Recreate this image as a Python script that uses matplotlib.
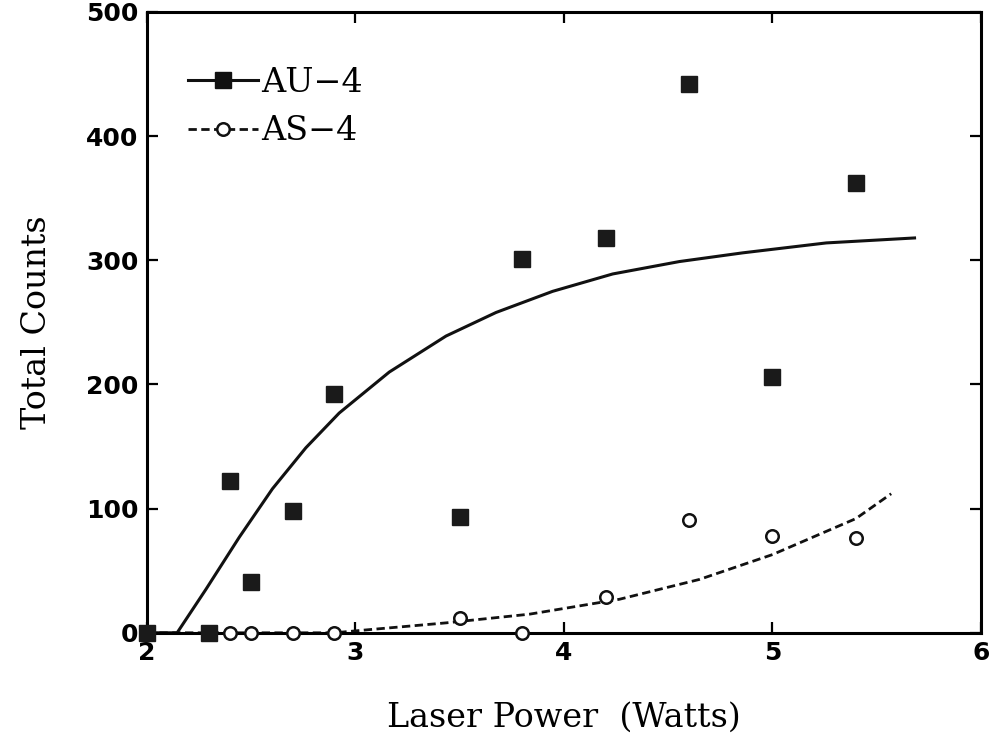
import matplotlib.pyplot as plt
from matplotlib.lines import Line2D

# measured points
au_x = [2.0, 2.3, 2.4, 2.5, 2.7, 2.9, 3.5, 3.8, 4.2, 4.6, 5.0, 5.4]
au_y = [0, 0, 122, 41, 98, 192, 93, 301, 318, 442, 206, 362]
as_x = [2.4, 2.5, 2.7, 2.9, 3.5, 3.8, 4.2, 4.6, 5.0, 5.4]
as_y = [0, 0, 0, 0, 12, 0, 29, 91, 78, 76]

# fitted curves
au_fit_x = [2.0, 2.146, 2.284, 2.444, 2.603, 2.763, 2.923, 3.163, 3.435, 3.675,
            3.946, 4.234, 4.554, 4.857, 5.258, 5.681]
au_fit_y = [0, 0, 35, 77, 116, 149, 177, 210, 239, 258, 275, 289, 299, 306, 314, 318]
as_fit_x = [2.0, 2.9, 3.03, 3.435, 3.835, 4.266, 4.65, 5.0, 5.4, 5.569]
as_fit_y = [0, 0, 2, 8, 15, 27, 43, 63, 92, 112]

xticks = [2, 3, 4, 5, 6]
yticks = [0, 100, 200, 300, 400, 500]

fig = plt.figure(figsize=(9.91, 7.48), dpi=100)
ax = fig.add_axes([0.148, 0.154, 0.842, 0.83])

ax.plot(au_fit_x, au_fit_y, color='#111111', lw=2.2)
ax.plot(as_fit_x, as_fit_y, color='#111111', lw=2.0, ls=(0, (3, 1.6)))
ax.plot(au_x, au_y, 's', color='#1a1a1a', ms=11, clip_on=False, zorder=5)
ax.plot(as_x, as_y, 'o', mfc='white', mec='#111111', mew=1.8, ms=9,
        clip_on=False, zorder=5)

ax.set_xlim(2, 6)
ax.set_ylim(0, 500)
ax.set_xticks(xticks)
ax.set_yticks(yticks)
ax.tick_params(direction='in', length=8, width=1.6, top=True, right=True,
               labelsize=18, pad=6)
for lab in ax.get_xticklabels() + ax.get_yticklabels():
    lab.set_fontweight('bold')
    lab.set_family('DejaVu Sans')
for s in ax.spines.values():
    s.set_linewidth(2.2)

lab_font = {'family': 'DejaVu Serif', 'size': 24}
ax.set_xlabel('Laser Power  (Watts)', fontdict=lab_font, labelpad=26)
ax.set_ylabel('Total Counts', fontdict=lab_font, labelpad=24)

h1 = Line2D([], [], color='#111111', lw=2.2, marker='s', ms=11)
h2 = Line2D([], [], color='#111111', lw=2.0, ls=(0, (3, 1.6)), marker='o',
            mfc='white', mec='#111111', mew=1.8, ms=9)
ax.legend([h1, h2], ['AU\u22124', 'AS\u22124'], loc='upper left',
          bbox_to_anchor=(0.013, 0.96), frameon=False, handlelength=2.1,
          handletextpad=0.12, labelspacing=0.5, numpoints=1,
          prop={'family': 'DejaVu Serif', 'size': 24})

fig.savefig('out.png', dpi=100, facecolor='white')
